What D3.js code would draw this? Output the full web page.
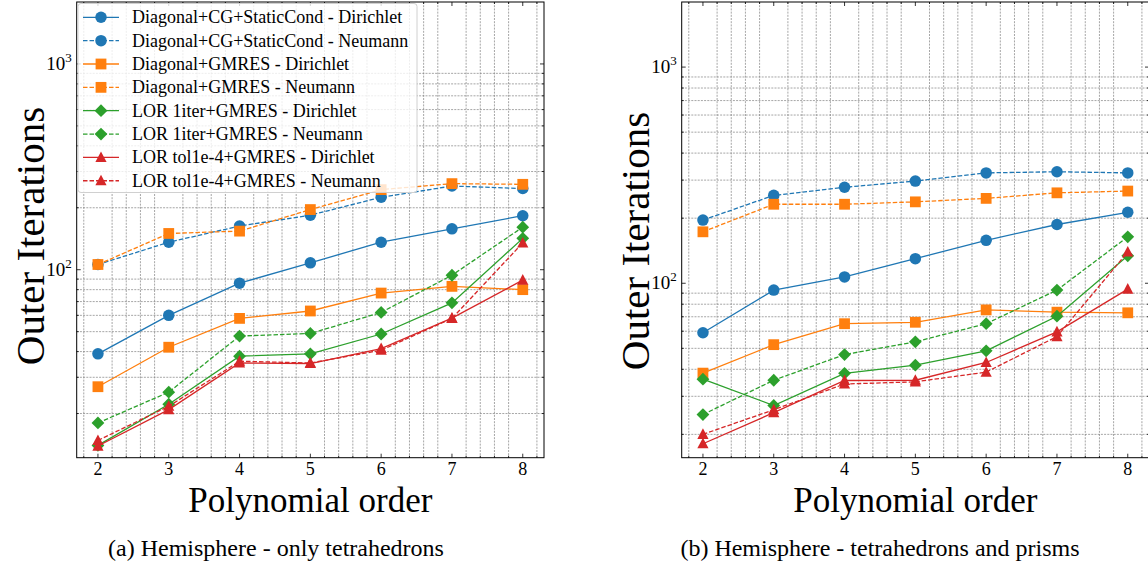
<!DOCTYPE html>
<html>
<head>
<meta charset="utf-8">
<script src="https://cdn.jsdelivr.net/npm/d3@7"></script>
<style>
  body { margin: 0; background: #fff; }
  svg text { font-family: "Liberation Serif", "DejaVu Serif", serif; fill: #000; }
  .grid line { stroke: #808080; stroke-width: 0.7; stroke-dasharray: 2, 1.2; }
  .frame { fill: none; stroke: #000; stroke-width: 1; }
  .tick-mark { stroke: #000; stroke-width: 0.8; }
</style>
</head>
<body>
<svg id="fig" width="1148" height="569"></svg>
<script>
// polynomial orders on the x axis
const orders = [2, 3, 4, 5, 6, 7, 8];

const seriesLabels = [
    'Diagonal+CG+StaticCond - Dirichlet',
    'Diagonal+CG+StaticCond - Neumann',
    'Diagonal+GMRES - Dirichlet',
    'Diagonal+GMRES - Neumann',
    'LOR 1iter+GMRES - Dirichlet',
    'LOR 1iter+GMRES - Neumann',
    'LOR tol1e-4+GMRES - Dirichlet',
    'LOR tol1e-4+GMRES - Neumann'
];

// (a) only tetrahedrons, one row per series
const tetraIterations = [
    [39, 60, 86, 108, 136, 158, 183],
    [106, 136, 163, 184, 225, 255, 248],
    [27, 42, 58, 63, 77, 83, 80],
    [106, 150, 154, 196, 245, 262, 260],
    [14, 22.2, 38, 39, 48.7, 69, 142],
    [18, 25.4, 47.6, 49, 62, 94, 161],
    [13.9, 20.9, 35.2, 35, 41.4, 58.2, 89],
    [14.8, 21.7, 35.9, 35.2, 40.6, 58, 135]
];

// (b) tetrahedrons and prisms
const prismIterations = [
    [59, 93, 107, 130, 158, 187, 213],
    [196, 255, 278, 297, 324, 328, 324],
    [38.4, 52, 65, 66, 75.3, 73.5, 73],
    [173, 232, 232, 238, 247, 262, 267],
    [36, 27.2, 38.3, 41.8, 48.7, 70.4, 134],
    [24.7, 35.6, 46.8, 53.6, 65, 93, 164],
    [18.1, 25.2, 35.5, 35.6, 43, 59.6, 94],
    [20, 26, 34.2, 35, 38.8, 56.7, 139.5]
];

const yMajorTicks = [100, 1000];
const yMinorTicks = [20, 30, 40, 50, 60, 70, 80, 90, 200, 300, 400, 500, 600, 700, 800, 900];
const xMinorTicks = [1.8, 2.2, 2.4, 2.6, 2.8, 3.2, 3.4, 3.6, 3.8, 4.2, 4.4, 4.6, 4.8,
    5.2, 5.4, 5.6, 5.8, 6.2, 6.4, 6.6, 6.8, 7.2, 7.4, 7.6, 7.8, 8.2];

const captions = ['(a) Hemisphere - only tetrahedrons', '(b) Hemisphere - tetrahedrons and prisms'];

// styling
const colors = ['#1f77b4', '#1f77b4', '#ff7f0e', '#ff7f0e', '#2ca02c', '#2ca02c', '#d62728', '#d62728'];
const markers = ['circle', 'circle', 'square', 'square', 'diamond', 'diamond', 'triangle', 'triangle'];

function markerPath(kind) {
    if (kind === 'circle') return d3.symbol(d3.symbolCircle, 104)();
    if (kind === 'square') return 'M-5.4,-5.4H5.4V5.4H-5.4Z';
    if (kind === 'diamond') return 'M0,-6.4L6.4,0L0,6.4L-6.4,0Z';
    return 'M0,-6L5.6,4.6H-5.6Z';
}

const svg = d3.select('#fig');
const plotTop = 2, plotBottom = 457.7;

function drawPanel(cfg) {
    const x = d3.scaleLinear().domain([1.7, 8.3]).range([cfg.left, cfg.right]);
    const y = d3.scaleLog().domain([cfg.yMin, 2000]).range([plotBottom, plotTop]);

    const g = svg.append('g');

    // minor grid only
    const grid = g.append('g').attr('class', 'grid');
    grid.selectAll('.vx').data(xMinorTicks).join('line')
        .attr('x1', d => x(d)).attr('x2', d => x(d))
        .attr('y1', plotTop).attr('y2', plotBottom);
    grid.selectAll('.hy').data(yMinorTicks.filter(d => d > cfg.yMin)).join('line')
        .attr('x1', cfg.left).attr('x2', cfg.right)
        .attr('y1', d => y(d)).attr('y2', d => y(d));

    const line = d3.line().x((d, i) => x(orders[i])).y(d => y(d));

    cfg.data.forEach((vals, s) => {
        const sg = g.append('g');
        sg.append('path')
            .attr('d', line(vals))
            .attr('fill', 'none')
            .attr('stroke', colors[s])
            .attr('stroke-width', 1.3)
            .attr('stroke-dasharray', s % 2 ? '4.5,2' : null);
        sg.selectAll('path.m').data(vals).join('path')
            .attr('class', 'm')
            .attr('d', markerPath(markers[s]))
            .attr('transform', (d, i) => `translate(${x(orders[i])},${y(d)})`)
            .attr('fill', colors[s]);
    });

    // ticks, inward on all four sides
    const ticks = g.append('g');
    orders.forEach(o => {
        ticks.append('line').attr('class', 'tick-mark')
            .attr('x1', x(o)).attr('x2', x(o)).attr('y1', plotBottom).attr('y2', plotBottom - 4);
        ticks.append('line').attr('class', 'tick-mark')
            .attr('x1', x(o)).attr('x2', x(o)).attr('y1', plotTop).attr('y2', plotTop + 4);
        ticks.append('text')
            .attr('x', x(o)).attr('y', plotBottom + 17)
            .attr('text-anchor', 'middle')
            .attr('font-size', 18)
            .text(o);
    });
    xMinorTicks.forEach(o => {
        ticks.append('line').attr('class', 'tick-mark')
            .attr('x1', x(o)).attr('x2', x(o)).attr('y1', plotBottom).attr('y2', plotBottom - 2);
        ticks.append('line').attr('class', 'tick-mark')
            .attr('x1', x(o)).attr('x2', x(o)).attr('y1', plotTop).attr('y2', plotTop + 2);
    });
    yMajorTicks.forEach(v => {
        ticks.append('line').attr('class', 'tick-mark')
            .attr('x1', cfg.left).attr('x2', cfg.left + 4).attr('y1', y(v)).attr('y2', y(v));
        ticks.append('line').attr('class', 'tick-mark')
            .attr('x1', cfg.right).attr('x2', cfg.right - 4).attr('y1', y(v)).attr('y2', y(v));
        const t = ticks.append('text')
            .attr('x', cfg.left - 5).attr('y', y(v) + 6)
            .attr('text-anchor', 'end')
            .attr('font-size', 19);
        t.append('tspan').text('10');
        t.append('tspan').attr('font-size', 13).attr('dy', -8).text(Math.round(Math.log10(v)));
    });
    yMinorTicks.filter(d => d > cfg.yMin).forEach(v => {
        ticks.append('line').attr('class', 'tick-mark')
            .attr('x1', cfg.left).attr('x2', cfg.left + 2).attr('y1', y(v)).attr('y2', y(v));
        ticks.append('line').attr('class', 'tick-mark')
            .attr('x1', cfg.right).attr('x2', cfg.right - 2).attr('y1', y(v)).attr('y2', y(v));
    });

    g.append('rect').attr('class', 'frame')
        .attr('x', cfg.left).attr('y', plotTop)
        .attr('width', cfg.right - cfg.left).attr('height', plotBottom - plotTop);

    // axis titles
    g.append('text')
        .attr('transform', `translate(${cfg.left - 33},${cfg.labelY}) rotate(-90)`)
        .attr('text-anchor', 'middle')
        .attr('font-size', 41)
        .text('Outer Iterations');
    g.append('text')
        .attr('x', (cfg.left + cfg.right) / 2).attr('y', 512)
        .attr('text-anchor', 'middle')
        .attr('font-size', 35)
        .text('Polynomial order');
    g.append('text')
        .attr('x', cfg.captionX).attr('y', 556)
        .attr('text-anchor', 'middle')
        .attr('font-size', 24)
        .text(cfg.caption);

    return g;
}

const leftPanel = drawPanel({left: 76.7, right: 544, yMin: 12.2, labelY: 236, data: tetraIterations, caption: captions[0], captionX: 276});
drawPanel({left: 681.7, right: 1149, yMin: 15.6, labelY: 241, data: prismIterations, caption: captions[1], captionX: 880});

// legend in the left panel
const legend = leftPanel.append('g');
legend.append('rect')
    .attr('x', 78).attr('y', 3.5).attr('width', 339).attr('height', 189)
    .attr('rx', 3)
    .attr('fill', '#fff').attr('fill-opacity', 0.8)
    .attr('stroke', '#d0d0d0');
seriesLabels.forEach((name, s) => {
    const ly = 17.3 + s * 23.35;
    legend.append('line')
        .attr('x1', 83).attr('x2', 119).attr('y1', ly).attr('y2', ly)
        .attr('stroke', colors[s]).attr('stroke-width', 1.3)
        .attr('stroke-dasharray', s % 2 ? '4.5,2' : null);
    legend.append('path')
        .attr('d', markerPath(markers[s]))
        .attr('transform', `translate(101,${ly})`)
        .attr('fill', colors[s]);
    legend.append('text')
        .attr('x', 132).attr('y', ly + 6)
        .attr('font-size', 18)
        .text(name);
});
</script>
</body>
</html>
